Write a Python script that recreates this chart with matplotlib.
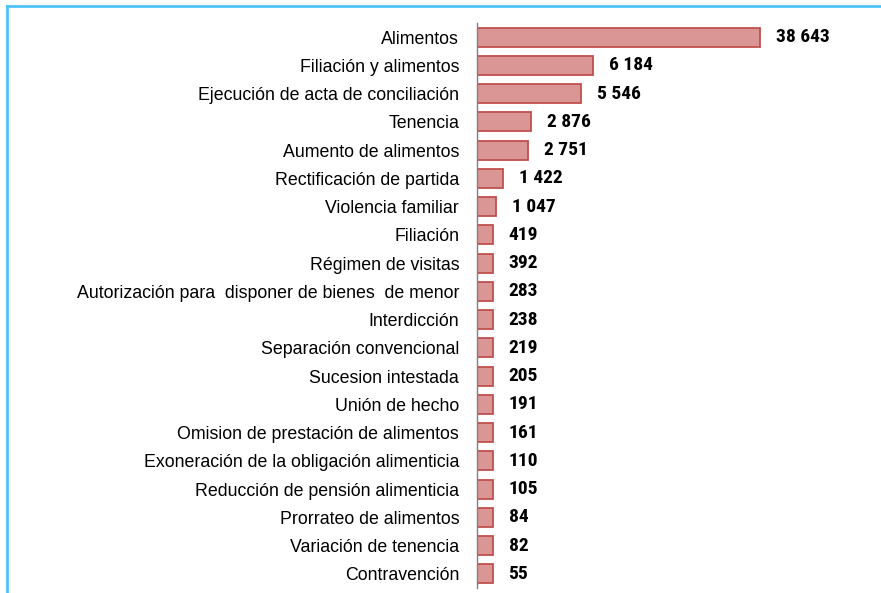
import matplotlib
matplotlib.use("Agg")
import matplotlib.pyplot as plt
import numpy as np

plt.rcParams["font.family"] = ["Liberation Sans", "DejaVu Sans"]

categories = [
    "Alimentos", "Filiación y alimentos", "Ejecución de acta de conciliación",
    "Tenencia", "Aumento de alimentos", "Rectificación de partida",
    "Violencia familiar", "Filiación", "Régimen de visitas",
    "Autorización para  disponer de bienes  de menor", "Interdicción",
    "Separación convencional", "Sucesion intestada", "Unión de hecho",
    "Omision de prestación de alimentos", "Exoneración de la obligación alimenticia",
    "Reducción de pensión alimenticia", "Prorrateo de alimentos",
    "Variación de tenencia", "Contravención",
]
values = [38643, 6184, 5546, 2876, 2751, 1422, 1047, 419, 392, 283, 238,
          219, 205, 191, 161, 110, 105, 84, 82, 55]
value_labels = ["38 643", "6 184", "5 546", "2 876", "2 751", "1 422", "1 047",
                "419", "392", "283", "238", "219", "205", "191", "161", "110",
                "105", "84", "82", "55"]

W, H = 881, 593
fig = plt.figure(figsize=(W / 100, H / 100), dpi=100)

# blue frame (top and left)
fig.add_artist(plt.Line2D([7 / W, 7 / W], [0, 1 - 6 / H], color="#4FC3F7", lw=2.0))
fig.add_artist(plt.Line2D([7 / W, 1], [1 - 6 / H, 1 - 6 / H], color="#4FC3F7", lw=2.0))

ax_left, ax_right = 476.5, 866
ax_top, ax_bot = 23, 588
ax = fig.add_axes([ax_left / W, 1 - ax_bot / H, (ax_right - ax_left) / W, (ax_bot - ax_top) / H])

units_per_px = 53.0
display = np.clip(np.array(values, dtype=float), 850, 15000)
y = np.arange(len(categories))
ax.barh(y, display, height=0.68, color="#DA9694", edgecolor="#C0504D", linewidth=1.3)
ax.set_xlim(0, (ax_right - ax_left) * units_per_px)
ax.set_ylim(len(categories) - 0.5, -0.5)

for yi, d, lab in zip(y, display, value_labels):
    ax.text(d + 16 * units_per_px, yi, lab, va="center", ha="left",
            fontsize=14, fontweight="bold",
            family=["Roboto Condensed", "Liberation Sans"], color="black")

ax.set_yticks(y)
ax.set_yticklabels(categories, fontsize=12.8)
ax.tick_params(axis="y", length=0, pad=12.5)
ax.set_xticks([])
for s in ["top", "right", "bottom"]:
    ax.spines[s].set_visible(False)
ax.spines["left"].set_color("#808080")
ax.spines["left"].set_linewidth(1.0)

fig.savefig("out.png", dpi=100)
